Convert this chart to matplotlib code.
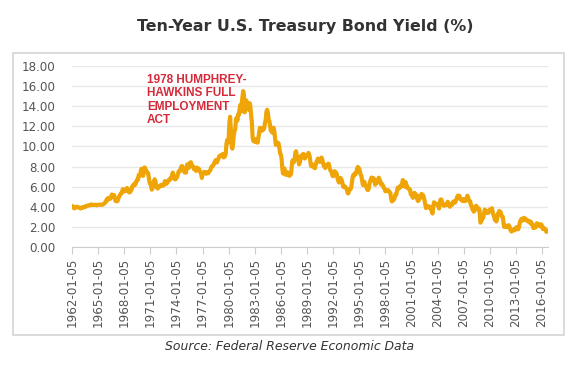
import numpy as np
import pandas as pd
import matplotlib
matplotlib.use("Agg")
import matplotlib.pyplot as plt
import matplotlib.dates as mdates
from matplotlib.patches import Rectangle

# monthly 10-year treasury yields (%), Jan 1962 .. Aug 2016
yields = {
    1962: [4.08, 4.04, 3.93, 3.84, 3.87, 3.91, 4.01, 3.98, 3.98, 3.93, 3.92, 3.86],
    1963: [3.83, 3.92, 3.93, 3.97, 3.93, 3.99, 4.02, 4.00, 4.08, 4.11, 4.12, 4.13],
    1964: [4.17, 4.15, 4.22, 4.23, 4.20, 4.17, 4.19, 4.19, 4.20, 4.19, 4.15, 4.18],
    1965: [4.19, 4.21, 4.21, 4.20, 4.21, 4.21, 4.20, 4.25, 4.29, 4.35, 4.45, 4.62],
    1966: [4.61, 4.83, 4.87, 4.75, 4.78, 4.81, 5.02, 5.22, 5.18, 5.01, 5.16, 4.84],
    1967: [4.58, 4.63, 4.54, 4.59, 4.85, 5.02, 5.16, 5.28, 5.30, 5.48, 5.75, 5.70],
    1968: [5.53, 5.56, 5.74, 5.64, 5.87, 5.72, 5.50, 5.42, 5.46, 5.58, 5.70, 6.03],
    1969: [6.04, 6.19, 6.30, 6.17, 6.32, 6.57, 6.72, 6.69, 7.16, 7.10, 7.14, 7.65],
    1970: [7.79, 7.24, 7.07, 7.39, 7.91, 7.84, 7.46, 7.53, 7.39, 7.33, 6.84, 6.39],
    1971: [6.24, 6.11, 5.70, 5.83, 6.39, 6.52, 6.73, 6.58, 6.14, 5.93, 5.81, 5.93],
    1972: [5.95, 6.08, 6.07, 6.19, 6.13, 6.11, 6.11, 6.21, 6.55, 6.48, 6.28, 6.36],
    1973: [6.46, 6.64, 6.71, 6.67, 6.85, 6.90, 7.13, 7.40, 7.09, 6.79, 6.73, 6.74],
    1974: [6.99, 6.96, 7.21, 7.51, 7.58, 7.54, 7.81, 8.04, 8.04, 7.90, 7.68, 7.43],
    1975: [7.50, 7.39, 7.73, 8.23, 8.06, 7.86, 8.06, 8.40, 8.43, 8.14, 8.05, 8.00],
    1976: [7.74, 7.79, 7.73, 7.56, 7.90, 7.86, 7.83, 7.77, 7.59, 7.41, 7.29, 6.87],
    1977: [7.21, 7.39, 7.46, 7.37, 7.46, 7.28, 7.33, 7.40, 7.34, 7.52, 7.58, 7.69],
    1978: [7.96, 8.03, 8.04, 8.15, 8.35, 8.46, 8.64, 8.41, 8.42, 8.64, 8.81, 9.01],
    1979: [9.10, 9.10, 9.12, 9.18, 9.25, 8.91, 8.95, 9.03, 9.33, 10.30, 10.65, 10.39],
    1980: [10.80, 12.41, 12.95, 11.47, 10.18, 9.78, 10.25, 11.10, 11.51, 11.75, 12.68, 12.84],
    1981: [12.57, 13.19, 13.12, 13.68, 14.10, 13.47, 14.28, 14.94, 15.50, 15.15, 13.39, 13.72],
    1982: [14.59, 14.43, 13.86, 13.87, 13.62, 14.30, 13.95, 13.06, 12.34, 10.91, 10.55, 10.54],
    1983: [10.46, 10.72, 10.51, 10.40, 10.38, 10.85, 11.38, 11.85, 11.65, 11.54, 11.69, 11.83],
    1984: [11.67, 11.84, 12.32, 12.63, 13.41, 13.65, 13.36, 12.72, 12.52, 12.16, 11.57, 11.50],
    1985: [11.38, 11.51, 11.86, 11.43, 10.85, 10.16, 10.31, 10.33, 10.37, 10.24, 9.78, 9.26],
    1986: [9.19, 8.70, 7.78, 7.30, 7.71, 7.80, 7.30, 7.17, 7.45, 7.43, 7.25, 7.11],
    1987: [7.08, 7.25, 7.25, 8.02, 8.61, 8.40, 8.45, 8.76, 9.42, 9.52, 8.86, 8.99],
    1988: [8.67, 8.21, 8.37, 8.72, 9.09, 8.92, 9.06, 9.26, 8.98, 8.80, 8.96, 9.11],
    1989: [9.09, 9.17, 9.36, 9.18, 8.86, 8.28, 8.02, 8.11, 8.19, 8.01, 7.87, 7.84],
    1990: [8.21, 8.47, 8.59, 8.79, 8.76, 8.48, 8.47, 8.75, 8.89, 8.72, 8.39, 8.08],
    1991: [8.09, 7.85, 8.11, 8.04, 8.07, 8.28, 8.27, 7.90, 7.65, 7.53, 7.42, 7.09],
    1992: [7.03, 7.34, 7.54, 7.48, 7.39, 7.26, 6.84, 6.59, 6.42, 6.59, 6.87, 6.77],
    1993: [6.60, 6.26, 5.98, 5.97, 6.04, 5.96, 5.81, 5.68, 5.36, 5.33, 5.72, 5.77],
    1994: [5.75, 5.97, 6.48, 6.97, 7.18, 7.10, 7.30, 7.24, 7.46, 7.74, 7.96, 7.81],
    1995: [7.78, 7.47, 7.20, 7.06, 6.63, 6.17, 6.28, 6.49, 6.20, 6.04, 5.93, 5.71],
    1996: [5.65, 5.81, 6.27, 6.51, 6.74, 6.91, 6.87, 6.64, 6.83, 6.53, 6.20, 6.30],
    1997: [6.58, 6.42, 6.69, 6.89, 6.71, 6.49, 6.22, 6.30, 6.21, 6.03, 5.88, 5.81],
    1998: [5.54, 5.57, 5.65, 5.64, 5.65, 5.50, 5.46, 5.34, 4.81, 4.53, 4.83, 4.65],
    1999: [4.72, 5.00, 5.23, 5.18, 5.54, 5.90, 5.79, 5.94, 5.92, 6.11, 6.03, 6.28],
    2000: [6.66, 6.52, 6.26, 5.99, 6.44, 6.10, 6.05, 5.83, 5.80, 5.74, 5.72, 5.24],
    2001: [5.16, 5.10, 4.89, 5.14, 5.39, 5.28, 5.24, 4.97, 4.73, 4.57, 4.65, 5.09],
    2002: [5.04, 4.91, 5.28, 5.21, 5.16, 4.93, 4.65, 4.26, 3.87, 3.94, 4.05, 4.03],
    2003: [4.05, 3.90, 3.81, 3.96, 3.57, 3.33, 3.98, 4.45, 4.27, 4.29, 4.30, 4.27],
    2004: [4.15, 4.08, 3.83, 4.35, 4.72, 4.73, 4.50, 4.28, 4.13, 4.10, 4.19, 4.23],
    2005: [4.22, 4.17, 4.50, 4.34, 4.14, 4.00, 4.18, 4.26, 4.20, 4.46, 4.54, 4.47],
    2006: [4.42, 4.57, 4.72, 4.99, 5.11, 5.11, 5.09, 4.88, 4.72, 4.73, 4.60, 4.56],
    2007: [4.76, 4.72, 4.56, 4.69, 4.75, 5.10, 5.00, 4.67, 4.52, 4.53, 4.15, 4.10],
    2008: [3.74, 3.74, 3.51, 3.68, 3.88, 4.10, 4.01, 3.89, 3.69, 3.81, 3.53, 2.42],
    2009: [2.52, 2.87, 2.82, 2.93, 3.29, 3.72, 3.56, 3.59, 3.40, 3.39, 3.40, 3.59],
    2010: [3.73, 3.69, 3.73, 3.85, 3.42, 3.20, 3.01, 2.70, 2.65, 2.54, 2.76, 3.29],
    2011: [3.39, 3.58, 3.41, 3.46, 3.17, 3.00, 3.00, 2.30, 1.98, 2.15, 2.01, 1.98],
    2012: [1.97, 1.97, 2.17, 2.05, 1.80, 1.62, 1.53, 1.68, 1.72, 1.75, 1.65, 1.72],
    2013: [1.91, 1.98, 1.96, 1.76, 1.93, 2.30, 2.58, 2.74, 2.81, 2.62, 2.72, 2.90],
    2014: [2.86, 2.71, 2.72, 2.71, 2.56, 2.60, 2.54, 2.42, 2.53, 2.30, 2.33, 2.21],
    2015: [1.88, 1.98, 2.04, 1.94, 2.20, 2.36, 2.32, 2.17, 2.17, 2.07, 2.26, 2.24],
    2016: [2.09, 1.78, 1.89, 1.81, 1.81, 1.64, 1.50, 1.56],
}

tick_years = list(range(1962, 2017, 3))
y_ticks = [0, 2, 4, 6, 8, 10, 12, 14, 16, 18]

title = "Ten-Year U.S. Treasury Bond Yield (%)"
note = "1978 HUMPHREY-\nHAWKINS FULL\nEMPLOYMENT\nACT"
source = "Source: Federal Reserve Economic Data"

dates, values = [], []
for yr, vals in yields.items():
    for m, v in enumerate(vals):
        dates.append(pd.Timestamp(yr, m + 1, 5))
        values.append(v)

W, H = 586, 365
fig = plt.figure(figsize=(W / 100, H / 100), dpi=100)

# outer frame
fig.patches.append(Rectangle((13 / W, 1 - 335 / H), (564 - 13) / W, (335 - 53) / H,
                             transform=fig.transFigure, fill=False,
                             edgecolor="#d4d4d4", linewidth=1.2))

ax = fig.add_axes([72 / W, 1 - 247 / H, (548 - 72) / W, (247 - 66) / H])
ax.plot(dates, values, color="#efa508", linewidth=3.0, solid_joinstyle="round")

ax.set_ylim(0, 18)
ax.set_xlim(pd.Timestamp(1962, 1, 5), pd.Timestamp(2016, 9, 10))
ax.set_yticks(y_ticks)
ax.set_yticklabels([f"{v:.2f}" for v in y_ticks])
ax.set_xticks([pd.Timestamp(y, 1, 5) for y in tick_years])
ax.set_xticklabels([f"{y}-01-05" for y in tick_years], rotation=90)

ax.grid(axis="y", color="#e8e8e8", linewidth=1)
ax.set_axisbelow(True)
for s in ["top", "right", "left"]:
    ax.spines[s].set_visible(False)
ax.spines["bottom"].set_color("#cccccc")
ax.tick_params(axis="y", length=0, pad=12, labelsize=8.6, labelcolor="#555555")
ax.tick_params(axis="x", length=5, color="#cccccc", pad=3, labelsize=8.6,
               labelcolor="#555555")

ax.text(0.1576, 0.955, note, transform=ax.transAxes, ha="left", va="top",
        family="Liberation Sans", fontweight="bold", fontsize=8.5,
        color="#d42a3a", linespacing=1.15)

fig.text(305 / W, 1 - 26 / H, title, ha="center", va="center",
         fontsize=11.4, fontweight="bold", color="#333333")
fig.text(290 / W, 1 - 347 / H, source, ha="center", va="center",
         fontsize=8.9, style="italic", color="#333333")

fig.savefig("out.png", dpi=100)
